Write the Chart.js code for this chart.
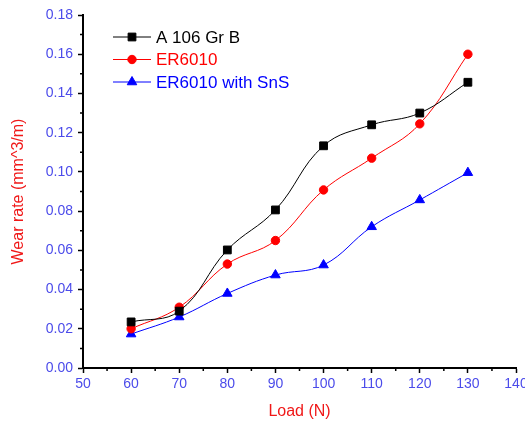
<!DOCTYPE html>
<html>
<head>
<meta charset="utf-8">
<script src="https://cdn.jsdelivr.net/npm/chart.js@4/dist/chart.umd.min.js"></script>
<style>
html, body { margin: 0; padding: 0; background: #fff; overflow: hidden; }
canvas { display: block; }
</style>
</head>
<body>
<canvas id="wearChart" width="525" height="425"></canvas>
<script>
const loads = [60, 70, 80, 90, 100, 110, 120, 130];
const a106GrB = [0.0235, 0.029, 0.0602, 0.0806, 0.1133, 0.124, 0.130, 0.1457];
const er6010 = [0.020, 0.031, 0.053, 0.065, 0.0908, 0.107, 0.1245, 0.160];
const er6010SnS = [0.0173, 0.026, 0.038, 0.0474, 0.0525, 0.072, 0.0857, 0.0996];
const seriesNames = ["A 106 Gr B", "ER6010", "ER6010 with SnS"];
const xTickValues = [50, 60, 70, 80, 90, 100, 110, 120, 130, 140];
const yTickValues = [0, 0.02, 0.04, 0.06, 0.08, 0.10, 0.12, 0.14, 0.16, 0.18];

const labelBlue = "#4b4bea";
const titleRed = "#f01818";

function toPoints(values) {
  return loads.map((x, i) => ({ x: x, y: values[i] }));
}

// short ticks halfway between the labelled ones
const minorTicks = {
  id: "minorTicks",
  afterDraw(chart) {
    const ctx = chart.ctx;
    const xs = chart.scales.x;
    const ys = chart.scales.y;
    ctx.save();
    ctx.strokeStyle = "#000";
    ctx.lineWidth = 1.5;
    ctx.beginPath();
    for (let i = 0; i < xTickValues.length - 1; i++) {
      const px = xs.getPixelForValue((xTickValues[i] + xTickValues[i + 1]) / 2);
      ctx.moveTo(px, xs.top);
      ctx.lineTo(px, xs.top + 3);
    }
    for (let i = 0; i < yTickValues.length - 1; i++) {
      const py = ys.getPixelForValue((yTickValues[i] + yTickValues[i + 1]) / 2);
      ctx.moveTo(ys.right, py);
      ctx.lineTo(ys.right - 3, py);
    }
    ctx.stroke();
    ctx.restore();
  }
};

// legend sits inside the plot, top left
const insideLegend = {
  id: "insideLegend",
  afterDraw(chart) {
    const ctx = chart.ctx;
    const area = chart.chartArea;
    ctx.save();
    chart.data.datasets.forEach((ds, i) => {
      const y = area.top + 22 + i * 22.5;
      const x0 = area.left + 30;
      ctx.strokeStyle = ds.borderColor;
      ctx.lineWidth = 1;
      ctx.beginPath();
      ctx.moveTo(x0, y);
      ctx.lineTo(x0 + 38, y);
      ctx.stroke();
      ctx.fillStyle = ds.backgroundColor;
      Chart.helpers.drawPoint(ctx, { pointStyle: ds.pointStyle, radius: ds.pointRadius, rotation: 0, borderWidth: 1 }, x0 + 19, y);
      ctx.fillStyle = ds.borderColor;
      ctx.font = "17px Arial, 'Liberation Sans', sans-serif";
      ctx.textBaseline = "middle";
      ctx.fillText(ds.label, x0 + 43, y + 1);
    });
    ctx.restore();
  }
};

function noEdgePadding(scale) {
  scale.paddingLeft = 0;
  scale.paddingRight = 0;
  scale.paddingTop = 0;
  scale.paddingBottom = 0;
}

new Chart(document.getElementById("wearChart"), {
  type: "line",
  data: {
    datasets: [
      {
        label: seriesNames[0],
        data: toPoints(a106GrB),
        borderColor: "#000",
        backgroundColor: "#000",
        borderWidth: 1,
        pointStyle: "rect",
        pointRadius: 5.5,
        tension: 0.4
      },
      {
        label: seriesNames[1],
        data: toPoints(er6010),
        borderColor: "#ff0000",
        backgroundColor: "#ff0000",
        borderWidth: 1,
        pointStyle: "circle",
        pointRadius: 4.2,
        tension: 0.4
      },
      {
        label: seriesNames[2],
        data: toPoints(er6010SnS),
        borderColor: "#0000ff",
        backgroundColor: "#0000ff",
        borderWidth: 1,
        pointStyle: "triangle",
        pointRadius: 5.5,
        tension: 0.4
      }
    ]
  },
  options: {
    responsive: false,
    animation: false,
    devicePixelRatio: 1,
    layout: {
      autoPadding: false,
      padding: { top: 15, right: 9, left: 0, bottom: 0 }
    },
    plugins: {
      legend: { display: false },
      tooltip: { enabled: false }
    },
    scales: {
      x: {
        type: "linear",
        min: xTickValues[0],
        max: xTickValues[xTickValues.length - 1],
        afterBuildTicks: scale => { scale.ticks = xTickValues.map(v => ({ value: v })); },
        afterFit: scale => { scale.height = 57; noEdgePadding(scale); },
        border: { color: "#000", width: 2 },
        grid: { drawOnChartArea: false, tickLength: 5, tickColor: "#000", tickWidth: 1.5 },
        ticks: {
          color: labelBlue,
          padding: 3,
          font: { family: "Arial, 'Liberation Sans', sans-serif", size: 14 },
          callback: v => String(v)
        },
        title: {
          display: true,
          text: "Load (N)",
          color: titleRed,
          padding: { top: 0, bottom: 4 },
          font: { family: "Arial, 'Liberation Sans', sans-serif", size: 16 }
        }
      },
      y: {
        type: "linear",
        min: yTickValues[0],
        max: yTickValues[yTickValues.length - 1],
        afterBuildTicks: scale => { scale.ticks = yTickValues.map(v => ({ value: v })); },
        afterFit: scale => { scale.width = 83; noEdgePadding(scale); },
        border: { color: "#000", width: 2 },
        grid: { drawOnChartArea: false, tickLength: 5, tickColor: "#000", tickWidth: 1.5 },
        ticks: {
          color: labelBlue,
          padding: 5,
          font: { family: "Arial, 'Liberation Sans', sans-serif", size: 14 },
          callback: v => Number(v).toFixed(2)
        },
        title: {
          display: true,
          text: "Wear rate (mm^3/m)",
          color: titleRed,
          padding: { top: 9, bottom: 0 },
          font: { family: "Arial, 'Liberation Sans', sans-serif", size: 16 }
        }
      }
    }
  },
  plugins: [minorTicks, insideLegend]
});
</script>
</body>
</html>
